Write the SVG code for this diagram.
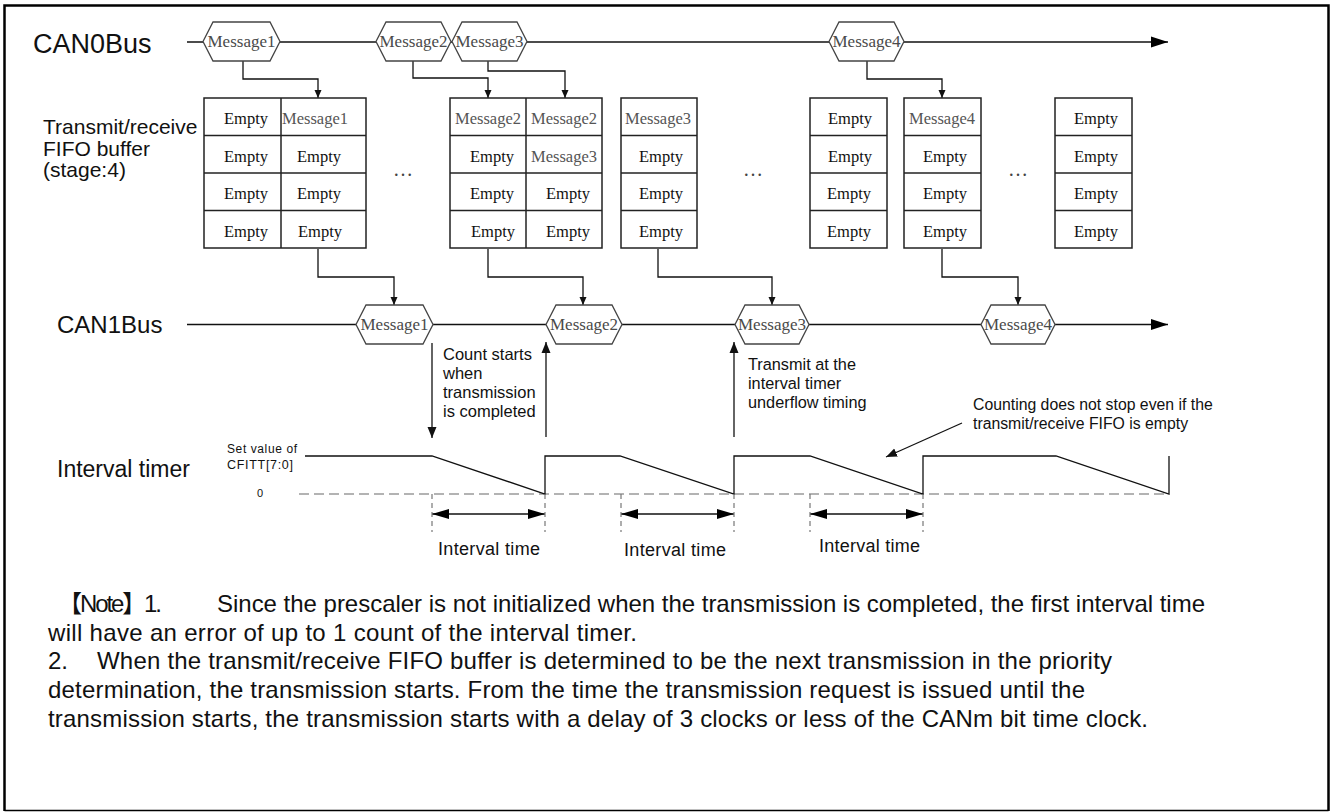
<svg xmlns="http://www.w3.org/2000/svg" width="1334" height="812" viewBox="0 0 1334 812">
<style>
.lbl{font-family:"Liberation Sans",Arial,sans-serif;fill:#111}
.hex polygon{fill:#fff;stroke:#444;stroke-width:1.3}
.hex text{font-family:"Liberation Serif","Times New Roman",serif;font-size:17px;fill:#4a4a4a;text-anchor:middle}
.buf rect,.buf line{fill:none;stroke:#222;stroke-width:1.5}
.buf text{font-family:"Liberation Serif","Times New Roman",serif;font-size:16.5px;fill:#111;text-anchor:middle}
.buf text.m{fill:#555}
.con{fill:none;stroke:#111;stroke-width:1.3}
.wave{fill:none;stroke:#111;stroke-width:1.3}
.ext{stroke:#777;stroke-width:1.2;stroke-dasharray:5 4}
.dots{font-family:"Liberation Serif",serif;font-size:20px;fill:#444;text-anchor:middle}
</style>
<defs>
<marker id="aS" markerUnits="userSpaceOnUse" markerWidth="8" markerHeight="8" refX="8" refY="4" orient="auto"><path d="M0,0.5 L8,4 L0,7.5 z" fill="#111"/></marker>
<marker id="aM" markerUnits="userSpaceOnUse" markerWidth="11" markerHeight="10" refX="11" refY="5" orient="auto"><path d="M0,0.5 L11,5 L0,9.5 z" fill="#111"/></marker>
<marker id="aL" markerUnits="userSpaceOnUse" markerWidth="17" markerHeight="12" refX="17" refY="6" orient="auto"><path d="M0,0.5 L17,6 L0,11.5 z" fill="#000"/></marker>
<marker id="aI" markerUnits="userSpaceOnUse" markerWidth="17" markerHeight="11" refX="17" refY="5.5" orient="auto-start-reverse"><path d="M0,0.5 L17,5.5 L0,10.5 z" fill="#000"/></marker>
</defs>
<rect width="1334" height="812" fill="#fff"/>
<path d="M4.5,811 V5.5 H1328.5 V811" fill="none" stroke="#000" stroke-width="2.5"/>
<line x1="4.5" y1="810.5" x2="1328.5" y2="810.5" stroke="#000" stroke-width="1.5"/>

<!-- Row labels -->
<g id="labels">
<text class="lbl" x="33" y="53" font-size="27">CAN0Bus</text>
<text class="lbl" x="43" y="134" font-size="21">Transmit/receive</text>
<text class="lbl" x="43" y="156" font-size="21">FIFO buffer</text>
<text class="lbl" x="43" y="177" font-size="21">(stage:4)</text>
<text class="lbl" x="57" y="333" font-size="24">CAN1Bus</text>
<text class="lbl" x="57" y="477" font-size="23">Interval timer</text>
<text class="lbl" x="227" y="453" font-size="12" textLength="70">Set value of</text>
<text class="lbl" x="227" y="469" font-size="12.5" textLength="66">CFITT[7:0]</text>
<text class="lbl" x="257" y="497" font-size="11">0</text>
</g>

<!-- Connectors -->
<g id="connectors">
<line class="con" x1="187" y1="42" x2="1168" y2="42" marker-end="url(#aL)"/>
<line class="con" x1="187" y1="324.5" x2="1168" y2="324.5" marker-end="url(#aL)"/>
<polyline class="con" points="243,61 243,79 318,79 318,98" marker-end="url(#aS)"/>
<polyline class="con" points="413,61 413,78 488,78 488,98" marker-end="url(#aS)"/>
<polyline class="con" points="488,61 488,71 565,71 565,98" marker-end="url(#aS)"/>
<polyline class="con" points="867,61 867,79 942,79 942,98" marker-end="url(#aS)"/>
<polyline class="con" points="318,249 318,277 394,277 394,305" marker-end="url(#aS)"/>
<polyline class="con" points="488,249 488,277 583,277 583,305" marker-end="url(#aS)"/>
<polyline class="con" points="658,249 658,277 772,277 772,305" marker-end="url(#aS)"/>
<polyline class="con" points="942,249 942,277 1018,277 1018,305" marker-end="url(#aS)"/>
<line class="con" x1="432" y1="343" x2="432" y2="438" marker-end="url(#aM)"/>
<line class="con" x1="546" y1="437" x2="546" y2="342" marker-end="url(#aM)"/>
<line class="con" x1="734" y1="437" x2="734" y2="342" marker-end="url(#aM)"/>
<line class="con" x1="962" y1="423" x2="886" y2="457" marker-end="url(#aM)"/>
<line class="con" x1="432" y1="514" x2="545" y2="514" marker-start="url(#aI)" marker-end="url(#aI)"/>
<line class="con" x1="621" y1="514" x2="734" y2="514" marker-start="url(#aI)" marker-end="url(#aI)"/>
<line class="con" x1="810" y1="514" x2="923" y2="514" marker-start="url(#aI)" marker-end="url(#aI)"/>
</g>

<!-- CAN0 messages -->
<g id="can0-m1" class="hex"><polygon points="203,41.5 213,22 270,22 280,41.5 270,61 213,61"/><text x="241.5" y="47">Message1</text></g>
<g id="can0-m2" class="hex"><polygon points="376,41.5 386,22 441,22 451,41.5 441,61 386,61"/><text x="413.5" y="47">Message2</text></g>
<g id="can0-m3" class="hex"><polygon points="452,41.5 462,22 517,22 527,41.5 517,61 462,61"/><text x="489.5" y="47">Message3</text></g>
<g id="can0-m4" class="hex"><polygon points="829,41.5 839,22 894,22 904,41.5 894,61 839,61"/><text x="866.5" y="47">Message4</text></g>

<!-- CAN1 messages -->
<g id="can1-m1" class="hex"><polygon points="356,324.5 366,305 423,305 433,324.5 423,344 366,344"/><text x="394.5" y="330">Message1</text></g>
<g id="can1-m2" class="hex"><polygon points="546,324.5 556,305 612,305 622,324.5 612,344 556,344"/><text x="584" y="330">Message2</text></g>
<g id="can1-m3" class="hex"><polygon points="735,324.5 745,305 799,305 809,324.5 799,344 745,344"/><text x="772" y="330">Message3</text></g>
<g id="can1-m4" class="hex"><polygon points="981,324.5 991,305 1045,305 1055,324.5 1045,344 991,344"/><text x="1018" y="330">Message4</text></g>

<!-- FIFO buffers -->
<g id="buf1" class="buf">
<rect x="204" y="98" width="162" height="150"/>
<line x1="281" y1="98" x2="281" y2="248"/>
<line x1="204" y1="135.5" x2="366" y2="135.5"/><line x1="204" y1="173" x2="366" y2="173"/><line x1="204" y1="210.5" x2="366" y2="210.5"/>
<text x="246" y="124">Empty</text><text x="246" y="161.5">Empty</text><text x="246" y="199">Empty</text><text x="246" y="236.5">Empty</text>
<text class="m" x="315" y="124">Message1</text><text x="319" y="161.5">Empty</text><text x="319" y="199">Empty</text><text x="320" y="236.5">Empty</text>
</g>
<g id="buf2" class="buf">
<rect x="450" y="98" width="152" height="150"/>
<line x1="526" y1="98" x2="526" y2="248"/>
<line x1="450" y1="135.5" x2="602" y2="135.5"/><line x1="450" y1="173" x2="602" y2="173"/><line x1="450" y1="210.5" x2="602" y2="210.5"/>
<text class="m" x="488" y="124">Message2</text><text x="492" y="161.5">Empty</text><text x="492" y="199">Empty</text><text x="493" y="236.5">Empty</text>
<text class="m" x="564" y="124">Message2</text><text class="m" x="564" y="161.5">Message3</text><text x="568" y="199">Empty</text><text x="568" y="236.5">Empty</text>
</g>
<g id="buf3" class="buf">
<rect x="621" y="98" width="76" height="150"/>
<line x1="621" y1="135.5" x2="697" y2="135.5"/><line x1="621" y1="173" x2="697" y2="173"/><line x1="621" y1="210.5" x2="697" y2="210.5"/>
<text class="m" x="658" y="124">Message3</text><text x="661" y="161.5">Empty</text><text x="661" y="199">Empty</text><text x="661" y="236.5">Empty</text>
</g>
<g id="buf4" class="buf">
<rect x="810" y="98" width="77" height="150"/>
<line x1="810" y1="135.5" x2="887" y2="135.5"/><line x1="810" y1="173" x2="887" y2="173"/><line x1="810" y1="210.5" x2="887" y2="210.5"/>
<text x="850" y="124">Empty</text><text x="850" y="161.5">Empty</text><text x="849" y="199">Empty</text><text x="849" y="236.5">Empty</text>
</g>
<g id="buf5" class="buf">
<rect x="904" y="98" width="77" height="150"/>
<line x1="904" y1="135.5" x2="981" y2="135.5"/><line x1="904" y1="173" x2="981" y2="173"/><line x1="904" y1="210.5" x2="981" y2="210.5"/>
<text class="m" x="942" y="124">Message4</text><text x="945" y="161.5">Empty</text><text x="945" y="199">Empty</text><text x="945" y="236.5">Empty</text>
</g>
<g id="buf6" class="buf">
<rect x="1055" y="98" width="77" height="150"/>
<line x1="1055" y1="135.5" x2="1132" y2="135.5"/><line x1="1055" y1="173" x2="1132" y2="173"/><line x1="1055" y1="210.5" x2="1132" y2="210.5"/>
<text x="1096" y="124">Empty</text><text x="1096" y="161.5">Empty</text><text x="1096" y="199">Empty</text><text x="1096" y="236.5">Empty</text>
</g>
<g id="ellipses">
<text class="dots" x="403" y="176">…</text>
<text class="dots" x="753" y="176">…</text>
<text class="dots" x="1018" y="176">…</text>
</g>

<!-- Interval timer waveform -->
<g id="timer">
<line x1="299" y1="494" x2="1169" y2="494" stroke="#b3b3b3" stroke-width="2" stroke-dasharray="10 5"/>
<polyline class="wave" points="305,456 432,456 545,494 545,456 620,456 734,494 734,456 810,456 923,494 923,456 1056,456 1169,494 1169,456"/>
<line class="ext" x1="432" y1="494" x2="432" y2="532"/>
<line class="ext" x1="545" y1="494" x2="545" y2="532"/>
<line class="ext" x1="621" y1="494" x2="621" y2="532"/>
<line class="ext" x1="734" y1="494" x2="734" y2="532"/>
<line class="ext" x1="810" y1="494" x2="810" y2="532"/>
<line class="ext" x1="923" y1="494" x2="923" y2="532"/>
<text class="lbl" x="438" y="555" font-size="18" textLength="102">Interval  time</text>
<text class="lbl" x="624" y="556" font-size="18" textLength="102">Interval  time</text>
<text class="lbl" x="819" y="552" font-size="18" textLength="101">Interval  time</text>
</g>

<!-- Annotations -->
<g id="annotations">
<text class="lbl" font-size="16.5"><tspan x="443" y="360">Count starts</tspan><tspan x="443" y="379">when</tspan><tspan x="443" y="398">transmission</tspan><tspan x="443" y="417">is completed</tspan></text>
<text class="lbl" font-size="16.3"><tspan x="748" y="370">Transmit at the</tspan><tspan x="748" y="389">interval timer</tspan><tspan x="748" y="408">underflow timing</tspan></text>
<text class="lbl" font-size="15.8"><tspan x="973" y="410">Counting does not stop even if the</tspan><tspan x="973" y="429">transmit/receive FIFO is empty</tspan></text>
</g>

<!-- Note -->
<g id="note" class="lbl" font-size="24">
<text x="58" y="612" font-family="'Liberation Sans','Noto Sans CJK JP',sans-serif" textLength="104">【Note】1.</text>
<text x="217" y="612" textLength="988">Since the prescaler is not initialized when the transmission is completed, the first interval time</text>
<text x="48" y="641" textLength="589">will have an error of up to 1 count of the interval timer.</text>
<text x="48" y="669">2.</text>
<text x="97" y="669" textLength="1015">When the transmit/receive FIFO buffer is determined to be the next transmission in the priority</text>
<text x="48" y="698" textLength="1037">determination, the transmission starts. From the time the transmission request is issued until the</text>
<text x="48" y="727" textLength="1100">transmission starts, the transmission starts with a delay of 3 clocks or less of the CANm bit time clock.</text>
</g>
</svg>
